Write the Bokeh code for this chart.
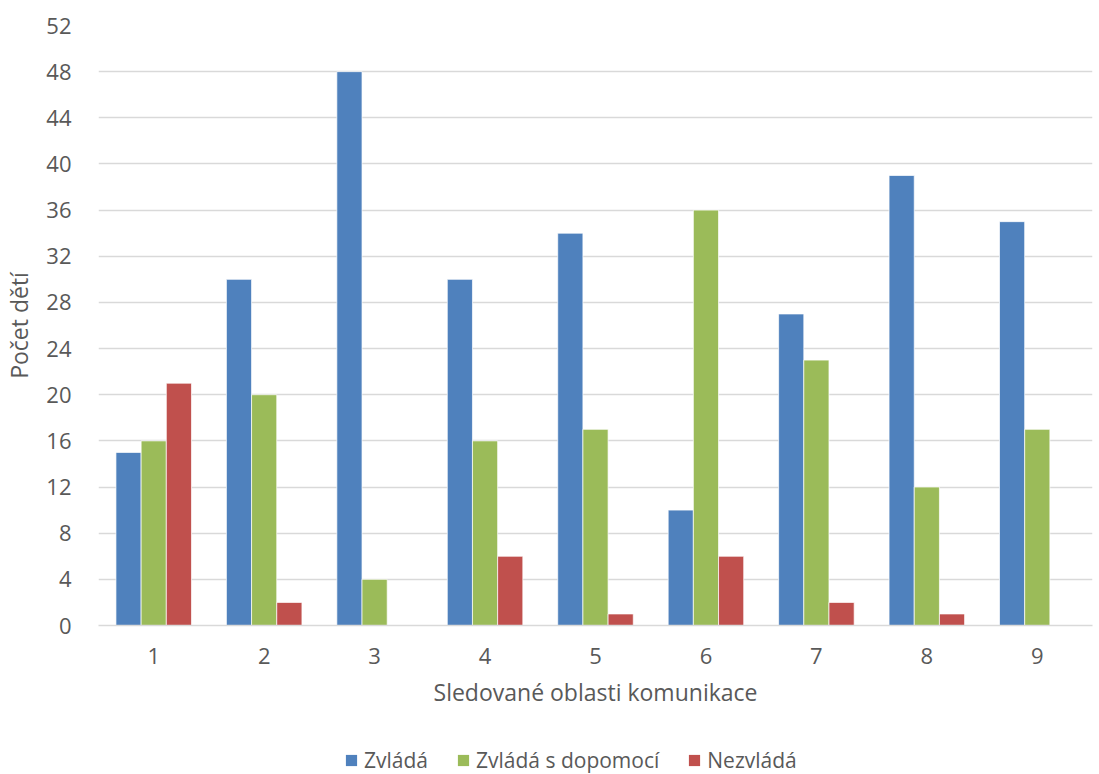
from bokeh.plotting import figure
from bokeh.layouts import column
from bokeh.models import ColumnDataSource, FactorRange, Range1d, Legend, LegendItem, SingleIntervalTicker
from bokeh.transform import dodge
from bokeh.embed import file_html
from bokeh.resources import INLINE

categories = ["1", "2", "3", "4", "5", "6", "7", "8", "9"]
zvlada = [15, 30, 48, 30, 34, 10, 27, 39, 35]
s_dopomoci = [16, 20, 4, 16, 17, 36, 23, 12, 17]
nezvlada = [21, 2, 0, 6, 1, 6, 2, 1, 0]
series_names = ["Zvládá", "Zvládá s dopomocí", "Nezvládá"]
colors = ["#4F81BD", "#9BBB59", "#C0504D"]

src = ColumnDataSource(dict(cat=categories, a=zvlada, b=s_dopomoci, c=nezvlada))

FONT = "Open Sans"
TXT = "#595959"

p = figure(width=1099, height=715, x_range=FactorRange(*categories, range_padding=0),
           y_range=Range1d(0, 52), output_backend="svg", toolbar_location=None,
           min_border_left=92, min_border_right=7, min_border_top=25, min_border_bottom=90)

w = 0.228
for key, off, col in zip(["a", "b", "c"], [-w, 0, w], colors):
    p.vbar(x=dodge("cat", off, range=p.x_range), top=key, width=w, source=src,
           fill_color=col, line_color="white", line_alpha=0.7, line_width=1)

p.outline_line_color = None
p.xgrid.grid_line_color = None
p.ygrid.grid_line_color = "#D9D9D9"
p.ygrid.grid_line_width = 1.3
p.yaxis.ticker = SingleIntervalTicker(interval=4)

for ax in (p.xaxis[0], p.yaxis[0]):
    ax.major_tick_line_color = None
    ax.minor_tick_line_color = None
    ax.major_label_text_font = FONT
    ax.major_label_text_font_size = "22px"
    ax.major_label_text_color = TXT
    ax.axis_label_text_font = FONT
    ax.axis_label_text_font_size = "23px"
    ax.axis_label_text_color = TXT
    ax.axis_label_text_font_style = "normal"

p.yaxis.axis_line_color = None
p.xaxis.axis_line_color = "#D9D9D9"
p.xaxis.axis_line_width = 1.3
p.xaxis.axis_label = "Sledované oblasti komunikace"
p.yaxis.axis_label = "Počet dětí"
p.xaxis.major_label_standoff = 16
p.xaxis.axis_label_standoff = 9
p.yaxis.major_label_standoff = 21
p.yaxis.axis_label_standoff = 8

# legend strip below the chart (frames are aligned with the chart above)
p2 = figure(width=1099, height=59, x_range=Range1d(0, 1), y_range=Range1d(0, 1),
            output_backend="svg", toolbar_location=None,
            min_border_left=0, min_border_right=0, min_border_top=0, min_border_bottom=0)
p2.axis.visible = False
p2.grid.visible = False
p2.outline_line_color = None
leg_renderers = [p2.vbar(x=[0.5], bottom=[-30], top=[-20], width=0.1, fill_color=c, line_color=None)
                 for c in colors]

legend = Legend(items=[LegendItem(label=n, renderers=[r]) for n, r in zip(series_names, leg_renderers)],
                orientation="horizontal", location=(246, 0),
                border_line_color=None, background_fill_alpha=0,
                padding=0, margin=0, spacing=28, label_standoff=6,
                glyph_width=14, glyph_height=14,
                label_text_font=FONT, label_text_font_size="21px", label_text_color=TXT)
p2.add_layout(legend, "center")

open("out.html", "w").write(file_html(column(p, p2, spacing=0), INLINE))
